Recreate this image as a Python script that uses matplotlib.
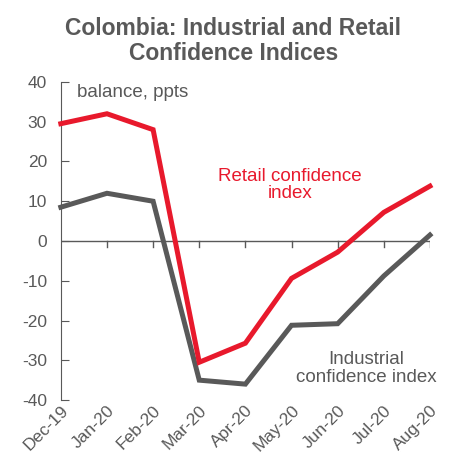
import matplotlib.pyplot as plt

plt.rcParams['font.family'] = ['Liberation Sans', 'DejaVu Sans']
plt.rcParams['axes.unicode_minus'] = False

months = ["Dec-19", "Jan-20", "Feb-20", "Mar-20", "Apr-20",
          "May-20", "Jun-20", "Jul-20", "Aug-20"]
retail = [29.5, 32, 28, -30.5, -25.7, -9.4, -2.8, 7.2, 13.8]
industrial = [8.5, 12, 10, -35, -36, -21.2, -20.8, -8.8, 1.5]

grey = '#595959'
red = '#E8192C'

fig = plt.figure(figsize=(4.54, 4.63), dpi=100)
ax = fig.add_axes([0.134, 0.136, 0.813, 0.687])

x = list(range(len(months)))
ax.plot(x, industrial, color=grey, lw=3.6, solid_joinstyle='miter', clip_on=False, zorder=3)
ax.plot(x, retail, color=red, lw=3.6, solid_joinstyle='miter', clip_on=False, zorder=4)

ax.set_xlim(0, len(months) - 1)
ax.set_ylim(-40, 40)
ax.set_yticks(range(-40, 41, 10))

# x axis sits at zero
for side in ['top', 'right', 'bottom']:
    ax.spines[side].set_visible(False)
ax.spines['left'].set_color(grey)
ax.axhline(0, color=grey, lw=1, zorder=2)
for xi in x[1:]:
    ax.plot([xi, xi], [0, -1.5], color=grey, lw=1, zorder=2)

ax.tick_params(axis='y', direction='in', length=6, color=grey, labelcolor=grey,
               labelsize=12.5, pad=10)
ax.tick_params(axis='x', length=0, labelcolor=grey, labelsize=12.5, pad=2)
ax.set_xticks(x)
ax.set_xticklabels(months, rotation=45, ha='right', rotation_mode='anchor')

ax.text(0.35, 39.5, "balance, ppts", color=grey, fontsize=13.5, va='top')
ax.text(4.96, 14.1, "Retail confidence\nindex", color=red, fontsize=13.5,
        ha='center', va='center', linespacing=1.05)
ax.text(6.62, -32.1, "Industrial\nconfidence index", color=grey, fontsize=13.5,
        ha='center', va='center', linespacing=1.05)

fig.text(0.514, 0.912, "Colombia: Industrial and Retail\nConfidence Indices",
         color=grey, fontsize=16.5, fontweight='bold', ha='center', va='center',
         linespacing=1.1)

fig.savefig('out.png', dpi=100)
